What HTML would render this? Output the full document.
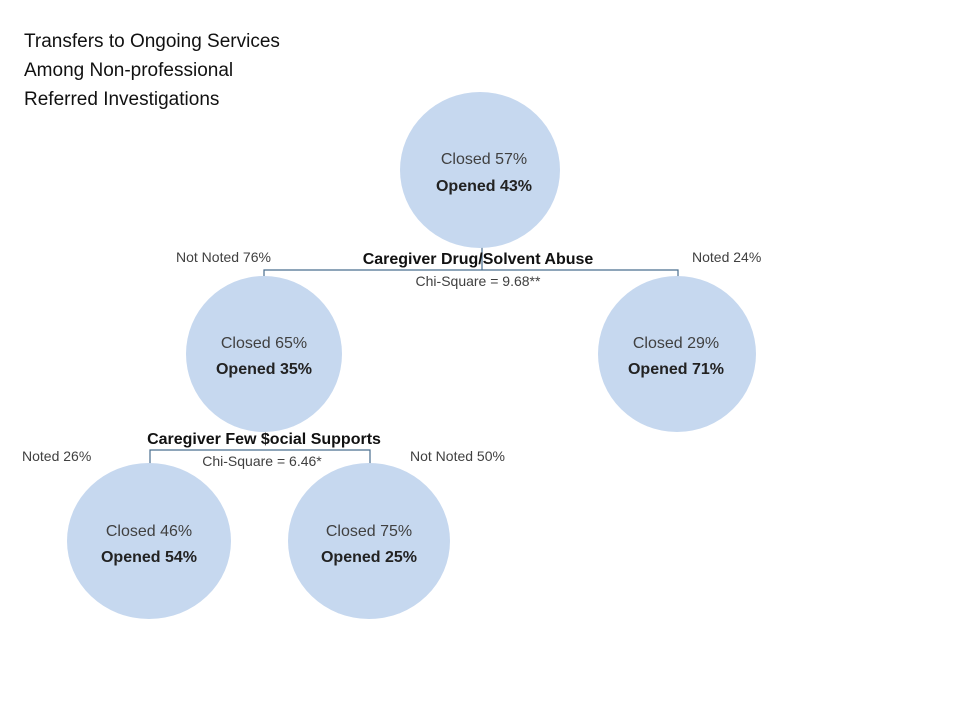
<!DOCTYPE html>
<html><head><meta charset="utf-8"><style>
body{margin:0;background:#fff;}
svg text{font-family:"Liberation Sans",sans-serif;}
</style></head><body>
<svg width="960" height="720" viewBox="0 0 960 720" xmlns="http://www.w3.org/2000/svg">
<g font-size="19" fill="#111">
<text x="24" y="47">Transfers to Ongoing Services</text>
<text x="24" y="76">Among Non-professional</text>
<text x="24" y="105">Referred Investigations</text>
</g>
<g stroke="#4a6f8f" stroke-width="1.2" fill="none">
<path d="M482 246 V270 M264 278 V270 H678 V278"/>
<path d="M150 464 V450 H370 V464"/>
</g>
<g fill="#c6d8ef">
<ellipse cx="480" cy="170" rx="80" ry="78"/>
<ellipse cx="264" cy="354" rx="78" ry="78"/>
<ellipse cx="677" cy="354" rx="79" ry="78"/>
<ellipse cx="149" cy="541" rx="82" ry="78"/>
<ellipse cx="369" cy="541" rx="81" ry="78"/>
</g>
<g font-size="16" text-anchor="middle">
<text x="484" y="164" fill="#404040">Closed 57%</text>
<text x="484" y="191" fill="#222" font-weight="bold">Opened 43%</text>
<text x="264" y="348" fill="#404040">Closed 65%</text>
<text x="264" y="374" fill="#222" font-weight="bold">Opened 35%</text>
<text x="676" y="348" fill="#404040">Closed 29%</text>
<text x="676" y="374" fill="#222" font-weight="bold">Opened 71%</text>
<text x="149" y="536" fill="#404040">Closed 46%</text>
<text x="149" y="562" fill="#222" font-weight="bold">Opened 54%</text>
<text x="369" y="536" fill="#404040">Closed 75%</text>
<text x="369" y="562" fill="#222" font-weight="bold">Opened 25%</text>
</g>
<g font-size="14" fill="#404040">
<text x="176" y="262">Not Noted 76%</text>
<text x="692" y="262">Noted 24%</text>
<text x="22" y="461">Noted 26%</text>
<text x="410" y="461">Not Noted 50%</text>
<text x="478" y="286" text-anchor="middle">Chi-Square = 9.68**</text>
<text x="262" y="466" text-anchor="middle">Chi-Square = 6.46*</text>
</g>
<g font-size="16" font-weight="bold" fill="#111" text-anchor="middle">
<text x="478" y="264">Caregiver Drug/Solvent Abuse</text>
<text x="264" y="444">Caregiver Few $ocial Supports</text>
</g>
</svg>
</body></html>
